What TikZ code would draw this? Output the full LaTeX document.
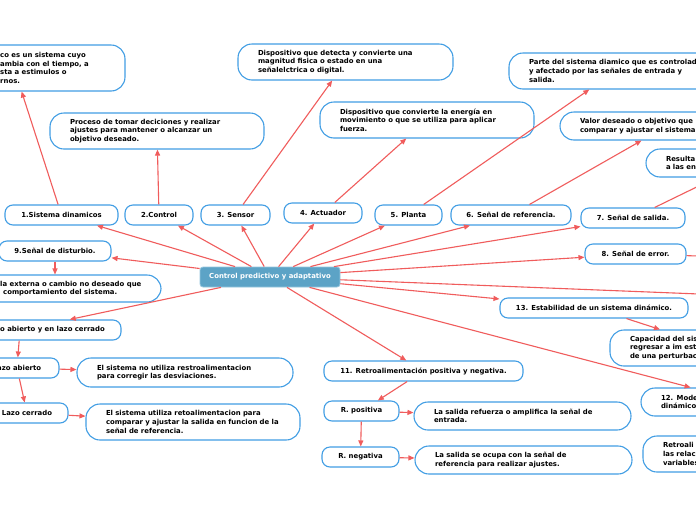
\documentclass[tikz,border=0pt]{standalone}
\usepackage{fontspec}
\setmainfont{DejaVu Sans}
\usetikzlibrary{arrows.meta,calc}
\definecolor{bblue}{RGB}{66,158,228}
\definecolor{lred}{RGB}{240,92,92}
\definecolor{cfill}{RGB}{92,163,198}
\definecolor{cedge}{RGB}{150,198,222}
\newcommand{\fs}{\fontsize{6.9}{8.7}\selectfont\bfseries}
\tikzset{
  topic/.style={draw=bblue, line width=1.1pt, fill=white, rounded corners=8pt,
    minimum height=20pt, inner sep=0pt, font=\fs, text=black},
  desc/.style={draw=bblue, line width=1.1pt, fill=white, rounded corners=14pt,
    inner xsep=20pt, inner ysep=0pt, align=left, font=\fs, text=black},
  frag/.style={inner sep=0pt, align=left, font=\fs, text=black, anchor=west},
  central/.style={draw=cedge, line width=0.8pt, fill=cfill, rounded corners=3pt,
    minimum width=140pt, minimum height=20pt, inner sep=0pt, font=\fs, text=white},
  link/.style={draw=lred, line width=1.1pt, -{Triangle[length=6pt,width=5pt]}},
}
\begin{document}
\begin{tikzpicture}[x=1pt,y=-1pt]
\useasboundingbox (0,0) rectangle (696,520);
\fill[white] (0,0) rectangle (696,520);

% central
\node[central] (c) at (270,277) {Control predictivo y adaptativo};

% topics
\node[topic, minimum width=113pt] (n1) at (61.5,215) {1.Sistema dinamicos};
\node[topic, minimum width=68pt] (n2) at (159,215) {2.Control};
\node[topic, minimum width=69pt] (n3) at (235.5,215) {3. Sensor};
\node[topic, minimum width=78pt] (n4) at (323,213) {4. Actuador};
\node[topic, minimum width=67pt] (n5) at (408.5,215) {5. Planta};
\node[topic, minimum width=120pt] (n6) at (511,215) {6. Señal de referencia.};
\node[topic, minimum width=104pt] (n7) at (633,218) {7. Señal de salida.};
\node[topic, minimum width=101pt] (n8) at (635.5,254) {8. Señal de error.};
\node[topic, minimum width=112pt] (n9) at (55,251) {9.Señal de disturbio.};
\node[topic, minimum width=202pt] (n10) at (20,330) {};
\node[frag] (t10) at (0,330) {o abierto y en lazo cerrado};
\node[topic, minimum width=84pt] (nla) at (17,368) {Lazo abierto};
\node[topic, minimum width=82pt] (nlc) at (27,413) {Lazo cerrado};
\node[topic, minimum width=199pt] (n11) at (423.5,371) {11. Retroalimentación positiva y negativa.};
\node[topic, minimum width=75pt] (npos) at (361.5,411) {R. positiva};
\node[topic, minimum width=77pt] (nneg) at (360.5,457) {R. negativa};
\node[topic, minimum width=188pt] (n13) at (594,308) {13. Estabilidad de un sistema dinámico.};

% descriptions
\node[desc, minimum width=222pt, minimum height=46pt] (dtl) at (14,68) {};
\node[frag] (ttl) at (0,68) {co es un sistema cuyo\\ambia con el tiempo, a\\sta a estimulos o\\rnos.};
\node[desc, minimum width=214pt, minimum height=36pt, text width=174pt] (dpro) at (157,131)
  {Proceso de tomar deciciones y realizar\\ajustes para mantener o alcanzar un\\objetivo deseado.};
\node[desc, minimum width=215pt, minimum height=36pt, text width=175pt] (ddet) at (345.5,62)
  {Dispositivo que detecta y convierte una\\magnitud fisica o estado en una\\señalelctrica o digital.};
\node[desc, minimum width=214pt, minimum height=36pt, text width=174pt] (dene) at (427,120)
  {Dispositivo que convierte la energía en\\movimiento o que se utiliza para aplicar\\fuerza.};
\node[desc, minimum width=214pt, minimum height=36pt, text width=174pt] (dpar) at (616,71)
  {Parte del sistema diamico que es controlado\\y afectado por las señales de entrada y\\salida.};
\node[desc, minimum width=214pt, minimum height=28pt, text width=174pt] (dval) at (667,126)
  {Valor deseado o objetivo que\\comparar y ajustar el sistema};
\node[desc, minimum width=200pt, minimum height=28pt, text width=160pt] (dres) at (746,163)
  {Resulta\\a las en};
\node[desc, minimum width=212pt, minimum height=27pt] (dext) at (55,288.5) {};
\node[frag] (text) at (0,288.5) {la externa o cambio no deseado que\\\hspace*{3pt}comportamiento del sistema.};
\node[desc, minimum width=216pt, minimum height=29pt, text width=176pt] (dno) at (185,372.5)
  {El sistema no utiliza restroalimentacion\\para corregir las desviaciones.};
\node[desc, minimum width=214pt, minimum height=36pt, text width=174pt] (dsi) at (193,422)
  {El sistema utiliza retoalimentacion para\\comparar y ajustar la salida en funcion de la\\señal de referencia.};
\node[desc, minimum width=217pt, minimum height=28pt, text width=177pt] (dref) at (522.5,416)
  {La salida refuerza o amplifica la señal de\\entrada.};
\node[desc, minimum width=217pt, minimum height=28pt, text width=177pt] (docu) at (523.5,460)
  {La salida se ocupa con la señal de\\referencia para realizar ajustes.};
\node[desc, minimum width=214pt, minimum height=36pt, text width=174pt] (dcap) at (717,348)
  {Capacidad del sis\\regresar a im est\\de una perturbac};
\node[desc, minimum width=210pt, minimum height=28pt, text width=170pt] (n12) at (746,402)
  {12. Mode\\dinámico};
\node[desc, minimum width=214pt, minimum height=36pt, text width=174pt] (dret) at (750,454)
  {Retroali\\las relac\\variables};

\coordinate (e14) at (800,298);
\coordinate (e8) at (760,258);

% connectors from the centre
\foreach \t in {n1,n2,n3,n4,n5,n6,n7,n8,n9,n10,n11,n13,n12,e14}
  \draw[link] (c) -- (\t);
\draw[link] (n8) -- (e8);

% connectors to descriptions
\draw[link] (n1) -- (dtl);
\draw[link] (n2) -- (dpro);
\draw[link] (n3) -- (ddet);
\draw[link] (n4) -- (dene);
\draw[link] (n5) -- (dpar);
\draw[link] (n6) -- (dval);
\draw[link] (n7) -- (dres);
\draw[link] (n9) -- (dext);
\draw[link] (n10) -- (nla);
\draw[link] (nla) -- (dno);
\draw[link] (nla) -- (nlc);
\draw[link] (nlc) -- (dsi);
\draw[link] (n11) -- (npos);
\draw[link] (npos) -- (dref);
\draw[link] (npos) -- (nneg);
\draw[link] (nneg) -- (docu);
\draw[link] (n13) -- (dcap);
\end{tikzpicture}
\end{document}
